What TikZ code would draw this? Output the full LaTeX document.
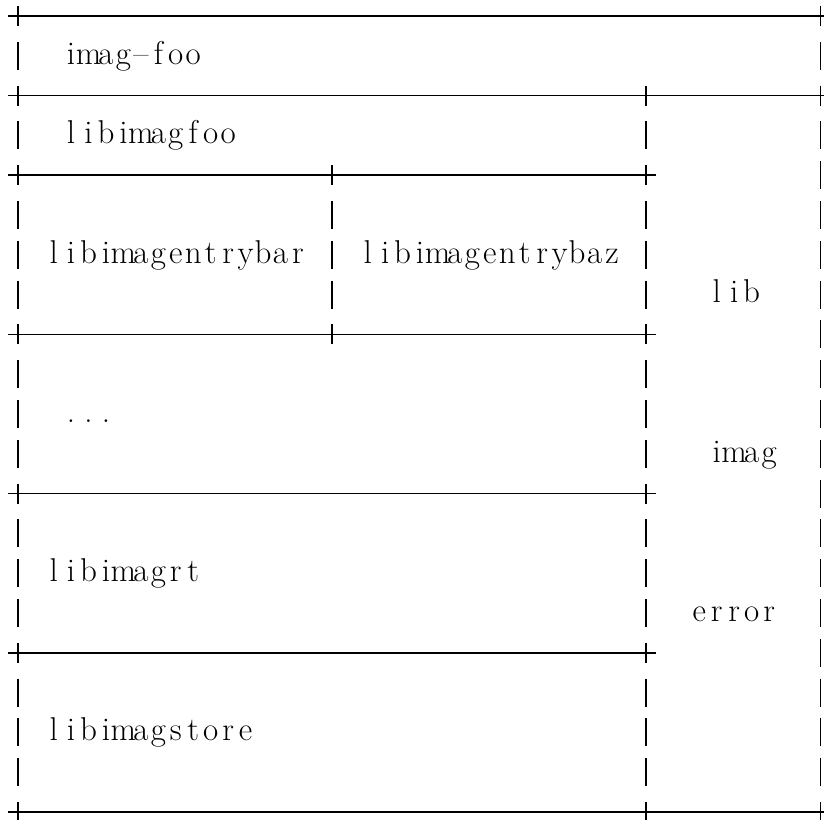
\documentclass[tikz,border=0pt]{standalone}
\usepackage{fontspec}
\usepackage{tikz}

% one fixed cell per character, as in a listing
\newlength\cellw
\setlength\cellw{8.725pt}
\makeatletter
\newcommand\fixcols[1]{\@tfor\fc@ch:=#1\do{\makebox[\cellw][c]{\fc@ch}}}
\makeatother

\begin{document}
\begin{tikzpicture}[x=8.725pt, y=-19.9pt, line width=0.75pt,
  hrule/.style={draw, line cap=butt},
  vbar/.style={draw, line cap=butt},
  lbl/.style={anchor=base west, inner sep=0pt, yshift=-4.1pt,
    font=\fontsize{16.5}{19}\selectfont}]

\useasboundingbox (-9pt,8pt) rectangle (403pt,-401.5pt);

% =================================================================================
% FRAME: horizontal rules and the plus marks on them
% =================================================================================
\foreach \r/\a/\b in {0/0/46, 2/0/46, 4/0/36, 8/0/36, 12/0/36, 16/0/36, 20/0/46}
  \draw[hrule] (\a-0.55,\r) -- (\b+0.55,\r);

\foreach \c/\r in {0/0, 46/0, 0/2, 36/2, 46/2, 0/4, 18/4, 36/4, 0/8, 18/8, 36/8,
                   0/12, 36/12, 0/16, 36/16, 0/20, 36/20, 46/20}
  \draw[hrule] (\c,\r-0.25) -- (\c,\r+0.25);

% =================================================================================
% FRAME: vertical bars, one per text line
% =================================================================================
\foreach \r in {1,3,5,6,7,9,10,11,13,14,15,17,18,19}
  \draw[vbar] (0,\r-0.35) -- (0,\r+0.35);
\foreach \r in {3,5,6,7,9,10,11,13,14,15,17,18,19}
  \draw[vbar] (36,\r-0.35) -- (36,\r+0.35);
\foreach \r in {1,3,4,5,6,7,8,9,10,11,12,13,14,15,16,17,18,19}
  \draw[vbar] (46,\r-0.35) -- (46,\r+0.35);
\foreach \r in {5,6,7}
  \draw[vbar] (18,\r-0.35) -- (18,\r+0.35);

% =================================================================================
% LABELS
% =================================================================================
\node[lbl] (foo)      at (2.5,1)   {\fixcols{imag{--}foo}};
\node[lbl] (libfoo)   at (2.5,3)   {\fixcols{libimagfoo}};
\node[lbl] (entrybar) at (1.5,6)   {\fixcols{libimagentrybar}};
\node[lbl] (entrybaz) at (19.5,6)  {\fixcols{libimagentrybaz}};
\node[lbl] (dots)     at (2.5,10)  {\fixcols{...}};
\node[lbl] (librt)    at (1.5,14)  {\fixcols{libimagrt}};
\node[lbl] (libstore) at (1.5,18)  {\fixcols{libimagstore}};

% right column
\node[lbl] (lib)   at (39.5,7)  {\fixcols{lib}};
\node[lbl] (imag)  at (39.5,11) {\fixcols{imag}};
\node[lbl] (error) at (38.5,15) {\fixcols{error}};

\end{tikzpicture}
\end{document}
